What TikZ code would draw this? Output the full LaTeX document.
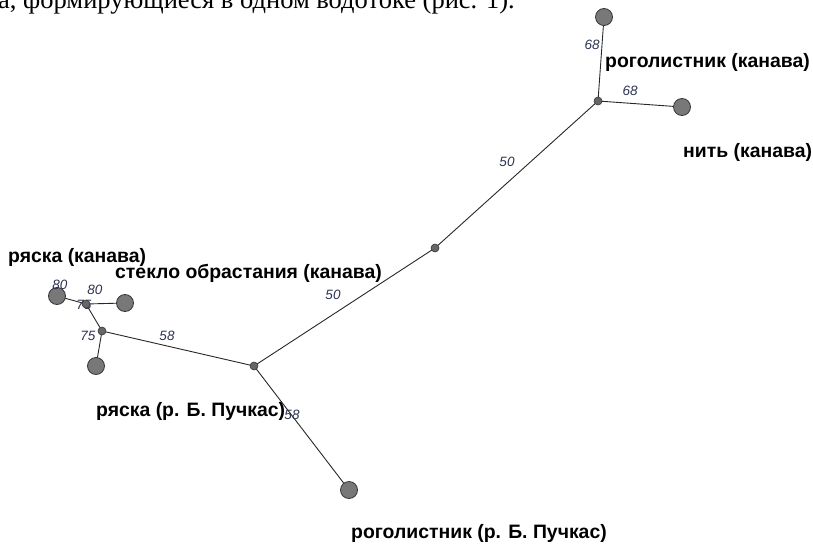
\documentclass[tikz,border=0pt]{standalone}
\usepackage{fontspec}
\setmainfont{Liberation Sans}
\newfontfamily\bodyserif{Liberation Serif}
\definecolor{edgegray}{RGB}{40,40,40}
\definecolor{leafgray}{RGB}{120,120,120}
\definecolor{rimgray}{RGB}{55,55,55}
\definecolor{wtcolor}{RGB}{45,50,80}
\tikzset{
  leaf/.style={circle,fill=leafgray,draw=rimgray,line width=0.8pt,minimum size=17pt,inner sep=0pt},
  fork/.style={circle,fill=leafgray!85!black,draw=rimgray,line width=0.6pt,minimum size=8pt,inner sep=0pt},
  branch/.style={draw=edgegray,line width=0.9pt},
  taxon/.style={font=\bfseries\fontsize{19.4}{21}\selectfont,inner sep=0pt,text=black},
  weight/.style={font=\itshape\fontsize{13.5}{15}\selectfont,inner sep=0pt,text=wtcolor},
}
\begin{document}
\begin{tikzpicture}[x=1pt,y=-1pt]
\useasboundingbox (0,0) rectangle (813,543);
\clip (0,0) rectangle (813,543);

% running text of the page above the figure
\node[anchor=base west,inner sep=0pt,font=\bodyserif\fontsize{26.5}{30}\selectfont] (intro) at (-2,9) {а, формирующиеся в одном водотоке (рис. 1).};

% tree vertices
\coordinate (j1) at (598,101);
\coordinate (mid) at (435,248);
\coordinate (j2) at (254,366);
\coordinate (j3) at (102,331);
\coordinate (j4) at (86,304);
\coordinate (lt) at (604,17);
\coordinate (lr) at (682,107);
\coordinate (lb) at (349,490);
\coordinate (ll) at (57,296);
\coordinate (ls) at (125,303);
\coordinate (lbl) at (96,366);

% branches
\draw[branch] (j1) -- (lt);
\draw[branch] (j1) -- (lr);
\draw[branch] (j1) -- (mid);
\draw[branch] (mid) -- (j2);
\draw[branch] (j2) -- (lb);
\draw[branch] (j2) -- (j3);
\draw[branch] (j3) -- (j4);
\draw[branch] (j3) -- (lbl);
\draw[branch] (j4) -- (ll);
\draw[branch] (j4) -- (ls);

% terminal taxa
\node[leaf] (nlt) at (lt) {};
\node[leaf] (nlr) at (lr) {};
\node[leaf] (nlb) at (lb) {};
\node[leaf] (nll) at (ll) {};
\node[leaf] (nls) at (ls) {};
\node[leaf] (nlbl) at (lbl) {};

% branch weights
\node[weight] (w1) at (592,45) {68};
\node[weight] (w2) at (630,91) {68};
\node[weight] (w3) at (507,162) {50};
\node[weight] (w4) at (333,295) {50};
\node[weight] (w5) at (167,336) {58};
\node[weight] (w6) at (292,415) {58};
\node[weight] (w7) at (84,305) {75};
\node[weight] (w8) at (88,336) {75};
\node[weight] (w9) at (60,285) {80};
\node[weight] (w10) at (95,290) {80};

% internal vertices
\node[fork] (nj1) at (j1) {};
\node[fork] (nmid) at (mid) {};
\node[fork] (nj2) at (j2) {};
\node[fork] (nj3) at (j3) {};
\node[fork] (nj4) at (j4) {};

% taxon names
\node[taxon,anchor=west] (t1) at (605,62) {роголистник (канава)};
\node[taxon,anchor=west] (t2) at (683,152) {нить (канава)};
\node[taxon,anchor=west] (t3) at (8,257) {ряска (канава)};
\node[taxon,anchor=west] (t4) at (115,273) {стекло обрастания (канава)};
\node[taxon,anchor=west] (t5) at (96,411) {ряска (р. Б. Пучкас)};
\node[taxon,anchor=west] (t6) at (351,533) {роголистник (р. Б. Пучкас)};
\end{tikzpicture}
\end{document}
